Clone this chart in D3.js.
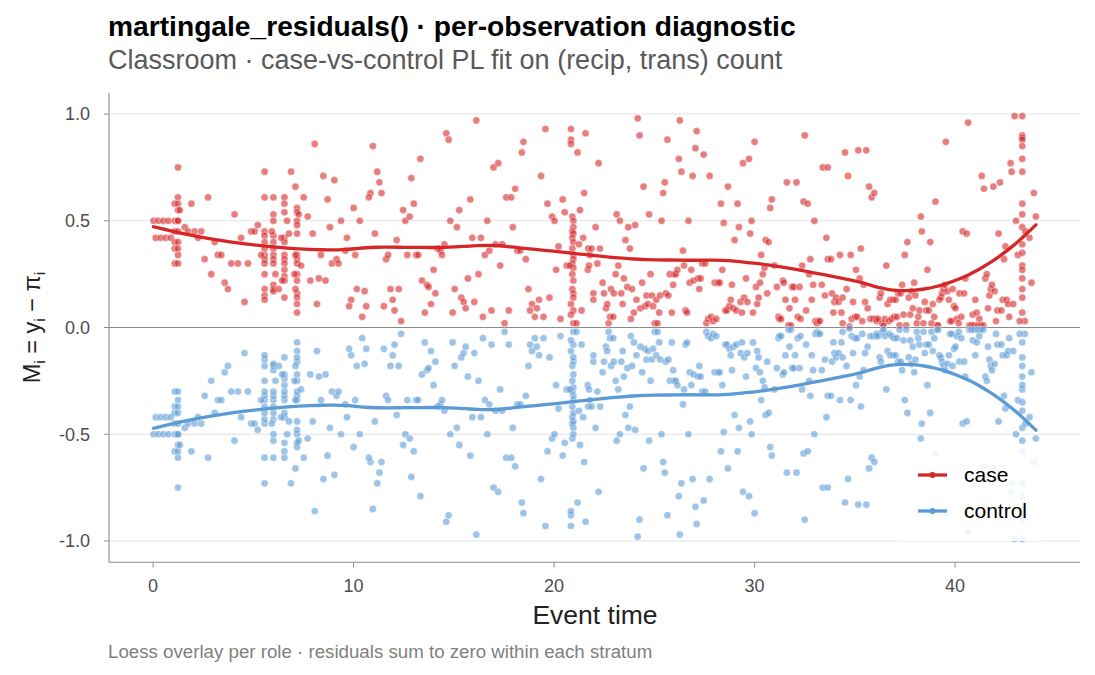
<!DOCTYPE html>
<html>
<head>
<meta charset="utf-8">
<script src="https://cdn.jsdelivr.net/npm/d3@7"></script>
<style>
  body { margin: 0; background: #fff; }
  text { font-family: "Liberation Sans", Arial, sans-serif; }
</style>
</head>
<body>
<div id="chart"></div>
<script>
// one entry per stratum: event time, case residual, control residual
var strataTime = [0.02,0.26,0.51,0.76,1.08,1.24,0.13,0.38,0.63,0.88,1.24,1.24,1.08,1.24,1.24,1.33,1.24,1.58,1.08,1.24,1.08,1.24,1.08,1.24,1.24,1.08,1.24,1.91,2.74,1.74,2.07,2.40,2.24,3.07,3.23,3.40,2.57,2.90,3.57,3.73,3.90,4.23,4.73,4.06,4.39,4.56,4.89,5.06,5.22,
5.56,5.56,5.56,5.56,5.56,5.56,5.56,5.56,5.56,5.56,5.56,5.56,5.56,5.39,
6.00,6.00,6.00,6.00,6.00,6.00,6.00,6.00,6.00,6.00,6.00,6.00,5.92,6.10,6.27,
6.55,6.55,6.55,6.55,6.55,6.55,6.55,6.55,6.55,6.55,6.55,6.55,6.68,6.78,6.39,6.44,6.88,7.10,
7.18,7.18,7.18,7.18,7.18,7.18,7.18,7.18,7.18,7.18,7.18,7.18,7.18,7.18,7.26,7.10,7.05,7.10,7.38,
7.51,7.71,7.96,7.84,8.06,8.17,8.27,8.37,8.60,8.49,8.70,8.82,9.04,8.92,9.15,9.25,9.37,9.59,9.67,10.00,10.08,10.16,9.88,9.78,
10.31,10.43,10.55,10.63,10.96,11.06,11.18,11.29,11.39,10.84,10.76,11.51,11.62,11.72,11.84,11.95,12.04,12.25,12.37,12.15,12.47,12.58,12.80,12.88,13.00,13.33,12.68,13.12,13.22,13.41,13.55,13.66,13.74,13.86,13.99,14.08,14.19,14.33,14.41,14.53,14.62,14.74,14.82,14.94,15.04,15.15,15.27,15.37,15.49,15.59,15.70,15.82,15.92,16.02,16.12,16.23,16.35,16.45,16.55,16.67,16.77,16.88,16.98,17.08,17.21,17.31,17.41,17.53,17.61,17.74,17.86,17.94,18.06,18.17,18.31,18.39,18.47,18.59,18.72,18.80,18.90,19.04,19.14,19.25,19.35,19.47,19.57,19.67,19.77,19.90,20.02,20.10,20.22,20.32,20.43,20.53,
20.84,20.84,20.84,21.17,20.91,20.96,20.96,20.91,20.96,20.91,20.96,20.91,20.96,20.96,20.91,20.96,20.91,20.96,20.91,20.96,20.96,20.84,20.96,20.84,20.96,21.12,21.29,21.24,21.45,21.57,21.50,21.37,21.70,20.63,20.79,
21.79,21.87,21.68,21.74,22.07,22.16,22.22,22.29,21.96,21.96,22.42,22.49,22.59,22.65,22.72,22.79,22.84,22.95,22.98,23.07,23.12,23.20,23.28,23.35,23.42,23.48,23.56,23.65,23.70,23.78,23.83,23.89,23.98,24.04,24.11,24.17,24.26,24.30,24.39,24.46,24.54,24.61,24.68,24.74,24.81,24.88,24.94,25.02,25.10,25.16,25.24,25.29,25.36,25.44,25.52,25.57,25.65,25.70,25.77,25.87,25.94,25.99,26.07,26.15,26.22,26.27,26.35,26.43,26.48,26.56,26.63,26.70,26.76,26.84,26.91,26.96,27.05,27.11,27.18,27.24,27.31,27.39,27.46,27.54,27.59,27.68,27.76,27.83,27.93,28.01,28.09,28.17,28.26,28.32,28.39,28.46,28.54,28.61,28.67,28.74,28.81,28.87,28.94,29.00,29.09,29.15,29.22,29.30,29.37,29.42,29.48,29.57,29.64,29.72,29.78,29.85,29.92,30.00,30.07,30.13,30.20,30.27,30.33,30.41,30.50,30.55,30.63,30.70,30.78,30.86,30.99,31.11,31.19,31.24,31.32,31.41,31.46,31.54,31.61,31.69,31.74,31.81,31.87,31.95,32.02,32.09,32.15,32.24,32.29,32.37,32.44,32.50,32.57,32.65,32.72,32.78,32.85,32.92,32.98,33.03,33.12,33.18,33.26,33.35,33.40,33.51,33.58,33.65,33.65,
33.81,33.86,33.93,33.98,34.06,34.19,34.26,34.33,34.39,34.39,34.51,34.59,34.66,34.73,34.79,34.84,34.91,35.01,35.06,35.11,35.17,35.24,35.30,35.37,35.44,35.51,35.57,35.64,35.71,35.77,35.84,35.91,35.97,36.04,36.10,36.17,36.24,36.30,36.37,36.43,36.50,36.57,36.63,36.70,36.76,36.83,36.90,36.96,37.03,37.10,37.16,37.23,37.29,37.36,37.43,37.49,37.56,37.62,37.69,37.76,37.82,37.89,37.96,38.02,38.09,38.16,38.22,38.29,38.34,38.42,38.49,38.56,38.62,38.69,38.76,38.82,38.89,38.96,39.02,39.09,39.15,39.22,39.29,39.35,39.42,39.49,39.54,39.62,39.69,39.75,39.82,39.88,39.95,40.02,40.08,40.18,40.21,40.31,40.38,40.45,40.51,40.58,40.65,40.71,40.81,40.88,40.95,41.01,41.08,41.14,41.21,41.28,41.33,41.41,41.44,41.51,41.58,41.64,41.71,41.78,41.84,41.91,41.97,42.04,42.11,42.17,42.24,42.31,42.37,42.44,42.51,42.57,42.64,42.70,42.77,42.82,42.90,43.04,43.13,42.97,
43.35,43.35,43.35,43.35,43.35,43.35,43.35,43.35,43.35,43.35,43.35,43.35,43.35,43.35,43.35,43.35,43.35,43.35,43.48,43.22,43.51,43.71,43.81,43.93,44.03];

var caseM = [0.50,0.50,0.50,0.50,0.50,0.50,0.42,0.42,0.42,0.42,0.75,0.61,0.58,0.58,0.55,0.55,0.50,0.47,0.45,0.45,0.40,0.40,0.37,0.37,0.34,0.30,0.30,0.58,0.61,0.45,0.45,0.45,0.42,0.40,0.34,0.34,0.32,0.25,0.21,0.18,0.30,0.30,0.30,0.53,0.42,0.12,0.45,0.45,0.48,
0.73,0.61,0.45,0.43,0.40,0.37,0.34,0.32,0.30,0.25,0.18,0.15,0.13,0.34,
0.61,0.53,0.50,0.43,0.40,0.37,0.34,0.32,0.30,0.20,0.18,0.17,0.45,0.25,0.18,
0.61,0.58,0.54,0.42,0.40,0.34,0.32,0.30,0.27,0.24,0.22,0.14,0.50,0.44,0.42,0.22,0.73,0.66,
0.56,0.54,0.50,0.48,0.44,0.34,0.32,0.30,0.25,0.22,0.16,0.14,0.11,0.07,0.53,0.34,0.25,0.18,0.29,
0.61,0.52,0.44,0.22,0.86,0.11,0.23,0.34,0.22,0.71,0.60,0.47,0.69,0.30,0.32,0.30,0.50,0.36,0.42,0.56,0.34,0.18,0.13,0.10,
0.50,0.05,0.17,0.10,0.85,0.44,0.73,0.68,0.63,0.63,0.61,0.10,0.32,0.34,0.18,0.13,0.08,0.18,0.03,0.41,0.55,0.50,0.52,0.70,0.58,0.79,0.34,0.34,0.34,0.22,0.07,0.20,0.19,0.11,0.27,0.16,0.37,0.36,0.34,0.39,0.91,0.88,0.50,0.07,0.18,0.47,0.55,0.14,0.12,0.09,0.23,0.60,0.42,0.12,0.97,0.25,0.42,0.05,0.34,0.50,0.36,0.08,0.75,0.39,0.77,0.29,0.39,0.02,0.61,0.08,0.61,0.47,0.65,0.36,0.36,0.82,0.87,0.32,0.18,0.08,0.11,0.05,0.09,0.13,0.71,0.05,0.93,0.58,0.14,0.52,0.50,0.27,0.38,0.04,0.60,0.54,
0.93,0.88,0.86,0.82,0.52,0.50,0.47,0.45,0.44,0.42,0.40,0.37,0.34,0.32,0.30,0.28,0.25,0.22,0.18,0.16,0.14,0.11,0.08,0.06,0.02,0.02,0.55,0.39,0.42,0.91,0.63,0.08,0.37,0.29,0.29,
0.34,0.37,0.27,0.29,0.47,0.30,0.77,0.37,0.16,0.13,0.21,0.16,0.09,0.11,0.02,0.05,0.18,0.05,0.16,0.25,0.53,0.29,0.50,0.16,0.11,0.23,0.41,0.19,0.47,0.37,0.04,0.18,0.07,0.48,0.13,0.98,0.90,0.09,0.21,0.66,0.10,0.15,0.11,0.53,0.25,0.15,0.10,0.02,0.13,0.02,0.07,0.15,0.50,0.63,0.68,0.16,0.88,0.15,0.25,0.07,0.20,0.25,0.25,0.27,0.79,0.97,0.73,0.36,0.29,0.08,0.07,0.50,0.21,0.27,0.71,0.22,0.84,0.92,0.23,0.18,0.23,0.30,0.81,0.30,0.02,0.04,0.71,0.05,0.03,0.21,0.04,0.21,0.21,0.58,0.27,0.49,0.08,0.08,0.66,0.10,0.13,0.20,0.09,0.41,0.08,0.58,0.47,0.12,0.07,0.77,0.14,0.23,0.12,0.79,0.44,0.50,0.07,0.87,0.19,0.11,0.14,0.21,0.34,0.25,0.28,0.41,0.16,0.40,0.56,0.60,0.29,0.19,0.05,0.04,0.04,0.22,0.21,0.13,0.68,0.01,0.09,0.01,0.19,0.19,0.13,0.68,0.05,0.19,0.04,0.29,0.59,0.90,0.08,0.58,0.25,0.32,0.13,0.20,0.50,0.03,0.02,0.03,0.03,0.20,0.75,0.15,0.42,0.32,0.75,
0.32,0.16,0.07,0.12,0.14,0.12,0.34,0.07,0.14,0.02,0.82,0.18,0.71,0.005,0.34,0.04,0.12,0.05,0.27,0.05,0.83,0.23,0.37,0.03,0.20,0.12,0.83,0.09,0.66,0.04,0.61,0.04,0.63,0.04,0.03,0.04,0.14,0.16,0.02,0.01,0.04,0.29,0.11,0.03,0.13,0.04,0.13,0.05,0.13,0.05,0.16,0.01,0.16,0.20,0.06,0.34,0.01,0.40,0.14,0.06,0.17,0.09,0.21,0.15,0.02,0.05,0.08,0.52,0.45,0.02,0.12,0.08,0.27,0.08,0.40,0.02,0.11,0.05,0.59,0.01,0.01,0.13,0.14,0.16,0.18,0.20,0.87,0.17,0.13,0.03,0.03,0.18,0.10,0.09,0.04,0.02,0.16,0.05,0.45,0.16,0.23,0.44,0.96,0.01,0.01,0.06,0.01,0.13,0.07,0.01,0.04,0.01,0.71,0.01,0.65,0.23,0.25,0.09,0.15,0.18,0.20,0.66,0.17,0.03,0.08,0.44,0.68,0.08,0.13,0.32,0.38,0.13,0.11,0.05,0.77,0.73,0.11,0.50,0.34,0.99,
0.99,0.90,0.89,0.88,0.85,0.79,0.73,0.58,0.53,0.47,0.39,0.35,0.29,0.27,0.23,0.18,0.14,0.07,0.03,0.03,0.45,0.42,0.21,0.63,0.52];

var controlM = [-0.50,-0.50,-0.50,-0.50,-0.50,-0.50,-0.42,-0.42,-0.42,-0.42,-0.75,-0.61,-0.58,-0.58,-0.55,-0.55,-0.50,-0.47,-0.45,-0.45,-0.40,-0.40,-0.37,-0.37,-0.34,-0.30,-0.30,-0.58,-0.61,-0.45,-0.45,-0.45,-0.42,-0.40,-0.34,-0.34,-0.32,-0.25,-0.21,-0.18,-0.30,-0.30,-0.30,-0.53,-0.42,-0.12,-0.45,-0.45,-0.48,
-0.73,-0.61,-0.45,-0.43,-0.40,-0.37,-0.34,-0.32,-0.30,-0.25,-0.18,-0.15,-0.13,-0.34,
-0.61,-0.53,-0.50,-0.43,-0.40,-0.37,-0.34,-0.32,-0.30,-0.20,-0.18,-0.17,-0.45,-0.25,-0.18,
-0.61,-0.58,-0.54,-0.42,-0.40,-0.34,-0.32,-0.30,-0.27,-0.24,-0.22,-0.14,-0.50,-0.44,-0.42,-0.22,-0.73,-0.66,
-0.56,-0.54,-0.50,-0.48,-0.44,-0.34,-0.32,-0.30,-0.25,-0.22,-0.16,-0.14,-0.11,-0.07,-0.53,-0.34,-0.25,-0.18,-0.29,
-0.61,-0.52,-0.44,-0.22,-0.86,-0.11,-0.23,-0.34,-0.22,-0.71,-0.60,-0.47,-0.69,-0.30,-0.32,-0.30,-0.50,-0.36,-0.42,-0.56,-0.34,-0.18,-0.13,-0.10,
-0.50,-0.05,-0.17,-0.10,-0.85,-0.44,-0.73,-0.68,-0.63,-0.63,-0.61,-0.10,-0.32,-0.34,-0.18,-0.13,-0.08,-0.18,-0.03,-0.41,-0.55,-0.50,-0.52,-0.70,-0.58,-0.79,-0.34,-0.34,-0.34,-0.22,-0.07,-0.20,-0.19,-0.11,-0.27,-0.16,-0.37,-0.36,-0.34,-0.39,-0.91,-0.88,-0.50,-0.07,-0.18,-0.47,-0.55,-0.14,-0.12,-0.09,-0.23,-0.60,-0.42,-0.12,-0.97,-0.25,-0.42,-0.05,-0.34,-0.50,-0.36,-0.08,-0.75,-0.39,-0.77,-0.29,-0.39,-0.02,-0.61,-0.08,-0.61,-0.47,-0.65,-0.36,-0.36,-0.82,-0.87,-0.32,-0.18,-0.08,-0.11,-0.05,-0.09,-0.13,-0.71,-0.05,-0.93,-0.58,-0.14,-0.52,-0.50,-0.27,-0.38,-0.04,-0.60,-0.54,
-0.93,-0.88,-0.86,-0.82,-0.52,-0.50,-0.47,-0.45,-0.44,-0.42,-0.40,-0.37,-0.34,-0.32,-0.30,-0.28,-0.25,-0.22,-0.18,-0.16,-0.14,-0.11,-0.08,-0.06,-0.02,-0.02,-0.55,-0.39,-0.42,-0.91,-0.63,-0.08,-0.37,-0.29,-0.29,
-0.34,-0.37,-0.27,-0.29,-0.47,-0.30,-0.77,-0.37,-0.16,-0.13,-0.21,-0.16,-0.09,-0.11,-0.02,-0.05,-0.18,-0.05,-0.16,-0.25,-0.53,-0.29,-0.50,-0.16,-0.11,-0.23,-0.41,-0.19,-0.47,-0.37,-0.04,-0.18,-0.07,-0.48,-0.13,-0.98,-0.90,-0.09,-0.21,-0.66,-0.10,-0.15,-0.11,-0.53,-0.25,-0.15,-0.10,-0.02,-0.13,-0.02,-0.07,-0.15,-0.50,-0.63,-0.68,-0.16,-0.88,-0.15,-0.25,-0.07,-0.20,-0.25,-0.25,-0.27,-0.79,-0.97,-0.73,-0.36,-0.29,-0.08,-0.07,-0.50,-0.21,-0.27,-0.71,-0.22,-0.84,-0.92,-0.23,-0.18,-0.23,-0.30,-0.81,-0.30,-0.02,-0.04,-0.71,-0.05,-0.03,-0.21,-0.04,-0.21,-0.21,-0.58,-0.27,-0.49,-0.08,-0.08,-0.66,-0.10,-0.13,-0.20,-0.09,-0.41,-0.08,-0.58,-0.47,-0.12,-0.07,-0.77,-0.14,-0.23,-0.12,-0.79,-0.44,-0.50,-0.07,-0.87,-0.19,-0.11,-0.14,-0.21,-0.34,-0.25,-0.28,-0.41,-0.16,-0.40,-0.56,-0.60,-0.29,-0.19,-0.05,-0.04,-0.04,-0.22,-0.21,-0.13,-0.68,-0.01,-0.09,-0.01,-0.19,-0.19,-0.13,-0.68,-0.05,-0.19,-0.04,-0.29,-0.59,-0.90,-0.08,-0.58,-0.25,-0.32,-0.13,-0.20,-0.50,-0.03,-0.02,-0.03,-0.03,-0.20,-0.75,-0.15,-0.42,-0.32,-0.75,
-0.32,-0.16,-0.07,-0.12,-0.14,-0.12,-0.34,-0.07,-0.14,-0.02,-0.82,-0.18,-0.71,-0.005,-0.34,-0.04,-0.12,-0.05,-0.27,-0.05,-0.83,-0.23,-0.37,-0.03,-0.20,-0.12,-0.83,-0.09,-0.66,-0.04,-0.61,-0.04,-0.63,-0.04,-0.03,-0.04,-0.14,-0.16,-0.02,-0.01,-0.04,-0.29,-0.11,-0.03,-0.13,-0.04,-0.13,-0.05,-0.13,-0.05,-0.16,-0.01,-0.16,-0.20,-0.06,-0.34,-0.01,-0.40,-0.14,-0.06,-0.17,-0.09,-0.21,-0.15,-0.02,-0.05,-0.08,-0.52,-0.45,-0.02,-0.12,-0.08,-0.27,-0.08,-0.40,-0.02,-0.11,-0.05,-0.59,-0.01,-0.01,-0.13,-0.14,-0.16,-0.18,-0.20,-0.87,-0.17,-0.13,-0.03,-0.03,-0.18,-0.10,-0.09,-0.04,-0.02,-0.16,-0.05,-0.45,-0.16,-0.23,-0.44,-0.96,-0.01,-0.01,-0.06,-0.01,-0.13,-0.07,-0.01,-0.04,-0.01,-0.71,-0.01,-0.65,-0.23,-0.25,-0.09,-0.15,-0.18,-0.20,-0.66,-0.17,-0.03,-0.08,-0.44,-0.68,-0.08,-0.13,-0.32,-0.38,-0.13,-0.11,-0.05,-0.77,-0.73,-0.11,-0.50,-0.34,-0.99,
-0.99,-0.90,-0.89,-0.88,-0.85,-0.79,-0.73,-0.58,-0.53,-0.47,-0.39,-0.35,-0.29,-0.27,-0.23,-0.18,-0.14,-0.07,-0.03,-0.03,-0.45,-0.42,-0.21,-0.63,-0.52];

var roles = ["case", "control"];
var roleColors = ["#d62728", "#5b9bd5"];
var xTicks = [0, 10, 20, 30, 40];
var yTicks = [-1.0, -0.5, 0.0, 0.5, 1.0];

var W = 1095, H = 675;
var svg = d3.select("#chart").append("svg")
  .attr("width", W).attr("height", H);

var x = d3.scaleLinear().domain([-2.2, 46.23]).range([109, 1080]);
var y = d3.scaleLinear().domain([-1.1, 1.1]).range([562.3, 92.7]);

// horizontal grid
svg.append("g").selectAll("line")
  .data(yTicks.filter(function(d){ return d !== 0; }))
  .enter().append("line")
  .attr("x1", 109).attr("x2", 1080)
  .attr("y1", function(d){ return y(d); })
  .attr("y2", function(d){ return y(d); })
  .attr("stroke", "#e3e3e3").attr("stroke-width", 1.1);

// zero reference
svg.append("line")
  .attr("x1", 109).attr("x2", 1080)
  .attr("y1", y(0)).attr("y2", y(0))
  .attr("stroke", "#8a8a8a").attr("stroke-width", 1.2);

var groups = [caseM, controlM];

groups.forEach(function(vals, gi){
  svg.append("g").selectAll("circle")
    .data(vals)
    .enter().append("circle")
    .attr("cx", function(d, i){ return x(strataTime[i]); })
    .attr("cy", function(d){ return y(d); })
    .attr("r", 3.6)
    .attr("fill", roleColors[gi])
    .attr("fill-opacity", 0.6)
    .attr("stroke", "#fff")
    .attr("stroke-opacity", 0.7)
    .attr("stroke-width", 0.6);
});

// loess (degree 2, tricube weights)
function loess(xs, ys, span, at) {
  var n = xs.length, q = Math.floor(n * span);
  return at.map(function(x0){
    var d = xs.map(function(v){ return Math.abs(v - x0); });
    var h = d.slice().sort(function(a, b){ return a - b; })[q - 1];
    var S = [[0,0,0],[0,0,0],[0,0,0]], b = [0,0,0];
    for (var i = 0; i < n; i++) {
      var u = d[i] / h;
      if (u >= 1) continue;
      var w = Math.pow(1 - u*u*u, 3);
      var dx = xs[i] - x0, p = [1, dx, dx*dx];
      for (var r = 0; r < 3; r++) {
        b[r] += w * p[r] * ys[i];
        for (var c = 0; c < 3; c++) S[r][c] += w * p[r] * p[c];
      }
    }
    var A = S.map(function(row, k){ return row.concat([b[k]]); });
    for (var k = 0; k < 3; k++) {
      var piv = k;
      for (var r2 = k+1; r2 < 3; r2++) if (Math.abs(A[r2][k]) > Math.abs(A[piv][k])) piv = r2;
      var tmp = A[k]; A[k] = A[piv]; A[piv] = tmp;
      for (var r3 = k+1; r3 < 3; r3++) {
        var f = A[r3][k] / A[k][k];
        for (var c2 = k; c2 < 4; c2++) A[r3][c2] -= f * A[k][c2];
      }
    }
    var sol = [0,0,0];
    for (var k2 = 2; k2 >= 0; k2--) {
      var s = A[k2][3];
      for (var c3 = k2+1; c3 < 3; c3++) s -= A[k2][c3] * sol[c3];
      sol[k2] = s / A[k2][k2];
    }
    return [x0, sol[0]];
  });
}

var tMin = d3.min(strataTime), tMax = d3.max(strataTime);
var grid = d3.range(80).map(function(i){ return tMin + (tMax - tMin) * i / 79; });
var line = d3.line()
  .x(function(d){ return x(d[0]); })
  .y(function(d){ return y(d[1]); })
  .curve(d3.curveBasis);

groups.forEach(function(vals, gi){
  svg.append("path")
    .datum(loess(strataTime, vals, 0.42, grid))
    .attr("d", line)
    .attr("fill", "none")
    .attr("stroke", roleColors[gi])
    .attr("stroke-width", 3.3)
    .attr("stroke-linecap", "round");
});

// axes
var axisCol = "#8c8c8c";
svg.append("line").attr("x1", 109).attr("x2", 109).attr("y1", 92.7).attr("y2", 562.3)
  .attr("stroke", axisCol).attr("stroke-width", 1.1);
svg.append("line").attr("x1", 109).attr("x2", 1080).attr("y1", 562.3).attr("y2", 562.3)
  .attr("stroke", axisCol).attr("stroke-width", 1.1);

svg.append("g").selectAll("line").data(yTicks).enter().append("line")
  .attr("x1", 104).attr("x2", 109)
  .attr("y1", function(d){ return y(d); }).attr("y2", function(d){ return y(d); })
  .attr("stroke", axisCol);
svg.append("g").selectAll("text").data(yTicks).enter().append("text")
  .attr("x", 90).attr("y", function(d){ return y(d); })
  .attr("dy", "0.35em").attr("text-anchor", "end")
  .attr("font-size", 18).attr("fill", "#4d4d4d")
  .text(function(d){ return d3.format(".1f")(d).replace("\u2212", "-"); });

svg.append("g").selectAll("line").data(xTicks).enter().append("line")
  .attr("x1", function(d){ return x(d); }).attr("x2", function(d){ return x(d); })
  .attr("y1", 562.3).attr("y2", 567.5)
  .attr("stroke", axisCol);
svg.append("g").selectAll("text").data(xTicks).enter().append("text")
  .attr("x", function(d){ return x(d); }).attr("y", 592)
  .attr("text-anchor", "middle")
  .attr("font-size", 18).attr("fill", "#4d4d4d")
  .text(function(d){ return d; });

// titles
svg.append("text").attr("x", 108).attr("y", 36)
  .attr("font-size", 28.2).attr("font-weight", "bold").attr("fill", "#000")
  .text("martingale_residuals() · per-observation diagnostic");
svg.append("text").attr("x", 108).attr("y", 69)
  .attr("font-size", 27).attr("fill", "#595959")
  .text("Classroom · case-vs-control PL fit on (recip, trans) count");
svg.append("text").attr("x", 595).attr("y", 624)
  .attr("text-anchor", "middle").attr("font-size", 26.5).attr("fill", "#222")
  .text("Event time");
svg.append("text").attr("x", 108).attr("y", 658)
  .attr("font-size", 18.7).attr("fill", "#7f7f7f")
  .text("Loess overlay per role · residuals sum to zero within each stratum");

var yl = svg.append("text")
  .attr("transform", "translate(40," + y(0) + ") rotate(-90)")
  .attr("text-anchor", "middle").attr("font-size", 23.5).attr("fill", "#222");
yl.append("tspan").text("M");
yl.append("tspan").attr("font-size", 15.5).attr("dy", 5).text("i");
yl.append("tspan").attr("dy", -5).text(" = y");
yl.append("tspan").attr("font-size", 15.5).attr("dy", 5).text("i");
yl.append("tspan").attr("dy", -5).text(" \u2212 \u03c0");
yl.append("tspan").attr("font-size", 15.5).attr("dy", 5).text("i");

// legend
var lg = svg.append("g");
lg.append("rect").attr("x", 900).attr("y", 444).attr("width", 143).attr("height", 97)
  .attr("fill", "#fff").attr("fill-opacity", 0.85);
roles.forEach(function(r, i){
  var ly = 475 + i * 36;
  lg.append("line").attr("x1", 918).attr("x2", 947).attr("y1", ly).attr("y2", ly)
    .attr("stroke", roleColors[i]).attr("stroke-width", 3.3);
  lg.append("circle").attr("cx", 932.5).attr("cy", ly).attr("r", 3)
    .attr("fill", roleColors[i]);
  lg.append("text").attr("x", 964).attr("y", ly).attr("dy", "0.35em")
    .attr("font-size", 21).attr("fill", "#000").text(r);
});
</script>
</body>
</html>
